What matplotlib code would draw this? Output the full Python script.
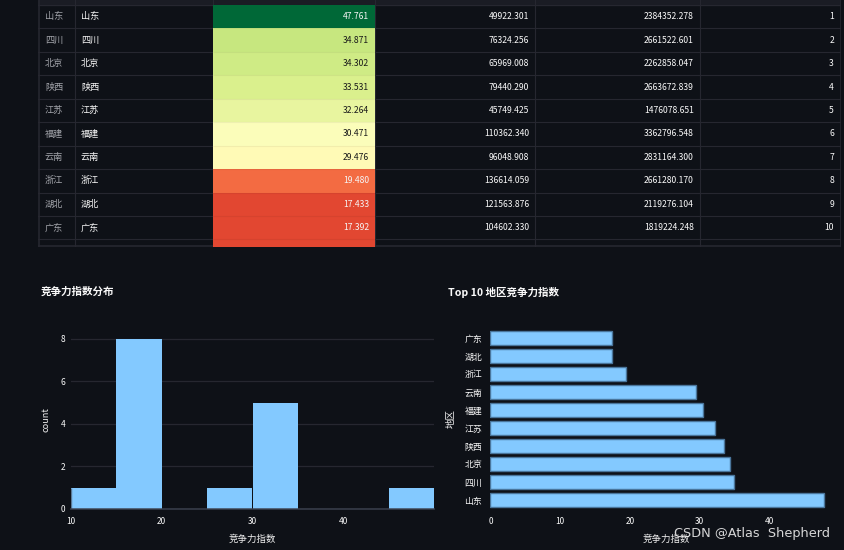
import matplotlib
matplotlib.use("Agg")
import numpy as np
import matplotlib.pyplot as plt
from matplotlib.colors import Normalize

plt.rcParams["font.family"] = ["Noto Sans CJK SC", "DejaVu Sans"]

BG = "#0e1117"
GRID = "#262730"
BLUE = "#83c9ff"

regions = ["山东", "四川", "北京", "陕西", "江苏", "福建", "云南", "浙江", "湖北", "广东"]
index_vals = [47.761, 34.871, 34.302, 33.531, 32.264, 30.471, 29.476, 19.480, 17.433, 17.392]
col_b = [49922.301, 76324.256, 65969.008, 79440.290, 45749.425,
         110362.340, 96048.908, 136614.059, 121563.876, 104602.330]
col_c = [2384352.278, 2661522.601, 2262858.047, 2663672.839, 1476078.651,
         3362796.548, 2831164.300, 2661280.170, 2119276.104, 1819224.248]
ranks = [1, 2, 3, 4, 5, 6, 7, 8, 9, 10]

bin_edges = [10, 15, 20, 25, 30, 35, 40, 45, 50]
bin_counts = [1, 8, 0, 1, 5, 0, 0, 1]

W, H = 845, 550


def px_axes(fig, left, top, right, bottom):
    return fig.add_axes([left / W, 1 - bottom / H, (right - left) / W, (bottom - top) / H])


def draw_table(fig):
    ax = px_axes(fig, 38.5, 0, 841, 246.5)
    ax.set_facecolor(BG)
    # row 0 starts 5px below the cut off header, one row is 23.4px
    ax.set_xlim(38.5, 841)
    ax.set_ylim(10.3, -5 / 23.4)
    ax.axis("off")
    edges = [75.5, 213, 375, 535.5, 700]

    ax.axhspan(-5 / 23.4, 0, color="#1a1c24", zorder=0)
    for y in range(0, 11):
        ax.axhline(y, color=GRID, lw=0.8, zorder=1)
    for x in edges:
        ax.axvline(x, color=GRID, lw=0.8, zorder=1)
    ax.axvline(38.9, color=GRID, lw=1.2, zorder=1)
    ax.axvline(840.6, color=GRID, lw=1.2, zorder=1)
    ax.axhline(10.28, color=GRID, lw=1.2, zorder=1)

    norm = Normalize(vmin=12.5, vmax=47.761)
    cmap = plt.get_cmap("RdYlGn")
    for i, v in enumerate(index_vals):
        tall = 1.3 if i == len(index_vals) - 1 else 1
        ax.bar(edges[1], tall, width=edges[2] - edges[1], bottom=i,
               align="edge", color=cmap(norm(v)), zorder=2)
    # grid shows only faintly through the coloured column
    ax.hlines(range(1, 11), edges[1], edges[2], color="black", lw=0.8, alpha=0.05, zorder=3)

    for i in range(len(regions)):
        y = i + 0.5
        ax.text(45, y, regions[i], color="#a3a5ab", fontsize=6.6, va="center", zorder=4)
        ax.text(81, y, regions[i], color="#fafafa", fontsize=6.6, va="center",
                fontweight="medium", zorder=4)
        dark = 1 <= i <= 6
        ax.text(369, y, f"{index_vals[i]:.3f}", color="#1a1a1a" if dark else "#f5f5f5",
                fontsize=6.2, va="center", ha="right", zorder=4)
        ax.text(529, y, f"{col_b[i]:.3f}", color="#fafafa", fontsize=6.2, va="center", ha="right")
        ax.text(694, y, f"{col_c[i]:.3f}", color="#fafafa", fontsize=6.2, va="center", ha="right")
        ax.text(834, y, str(ranks[i]), color="#fafafa", fontsize=6.2, va="center", ha="right")


def draw_hist(fig):
    ax = px_axes(fig, 71, 330, 434, 509)
    ax.set_facecolor(BG)
    ax.bar(bin_edges[:-1], bin_counts, width=np.diff(bin_edges), align="edge",
           color=BLUE, lw=0, zorder=2)
    ax.set_xlim(10, 50)
    ax.set_ylim(0, 8.42)
    ax.set_xticks([10, 20, 30, 40])
    ax.set_yticks([0, 2, 4, 6, 8])
    ax.grid(axis="y", color=GRID, lw=0.9, zorder=1)
    ax.set_axisbelow(True)
    ax.axhline(0, color="#3c4250", lw=1.4, alpha=0.75, zorder=3, clip_on=False)
    ax.vlines(bin_edges[0], 0, bin_counts[0], color="#3c4250", lw=1, alpha=0.6, zorder=3)
    ax.tick_params(length=0, labelsize=6, labelcolor="#fafafa")
    ax.tick_params(axis="x", pad=6)
    ax.tick_params(axis="y", pad=4)
    for lab in ax.get_xticklabels() + ax.get_yticklabels():
        lab.set_fontweight("medium")
    for s in ax.spines.values():
        s.set_visible(False)
    ax.set_xlabel("竞争力指数", color="#f0f0f0", fontsize=6.8, labelpad=6, fontweight="medium")
    ax.set_ylabel("count", color="#f0f0f0", fontsize=6.6, labelpad=7, fontweight="medium")
    fig.text(41 / W, 1 - 292 / H, "竞争力指数分布", color="#fafafa", fontsize=7.6,
             fontweight="bold", va="center")


def draw_top10(fig):
    ax = px_axes(fig, 490.5, 329, 828, 509)
    ax.set_facecolor(BG)
    ax.barh(regions, index_vals, height=0.8, color=BLUE, edgecolor="#4a769c", lw=1, zorder=2)
    ax.set_xlim(0, 48.4)
    ax.set_ylim(-0.5, 9.5)
    ax.set_xticks([0, 10, 20, 30, 40])
    ax.tick_params(length=0, labelsize=6, labelcolor="#fafafa")
    ax.tick_params(axis="x", pad=6)
    ax.tick_params(axis="y", labelsize=6.4, pad=6)
    for lab in ax.get_xticklabels() + ax.get_yticklabels():
        lab.set_fontweight("medium")
    for s in ax.spines.values():
        s.set_visible(False)
    ax.set_xlabel("竞争力指数", color="#f0f0f0", fontsize=6.8, labelpad=6, x=0.52, fontweight="medium")
    ax.set_ylabel("地区", color="#f0f0f0", fontsize=6.8, labelpad=6, fontweight="medium")
    fig.text(448 / W, 1 - 292 / H, "Top 10 地区竞争力指数", color="#fafafa", fontsize=7.6,
             fontweight="bold", va="center")


fig = plt.figure(figsize=(W / 100, H / 100), dpi=100, facecolor=BG)
draw_table(fig)
draw_hist(fig)
draw_top10(fig)
fig.text(830 / W, 1 - 534 / H, "CSDN @Atlas  Shepherd", color="#ececec", fontsize=9.3,
         family=["DejaVu Sans"], ha="right", va="center", alpha=0.9)
fig.savefig("out.png", dpi=100, facecolor=BG)
